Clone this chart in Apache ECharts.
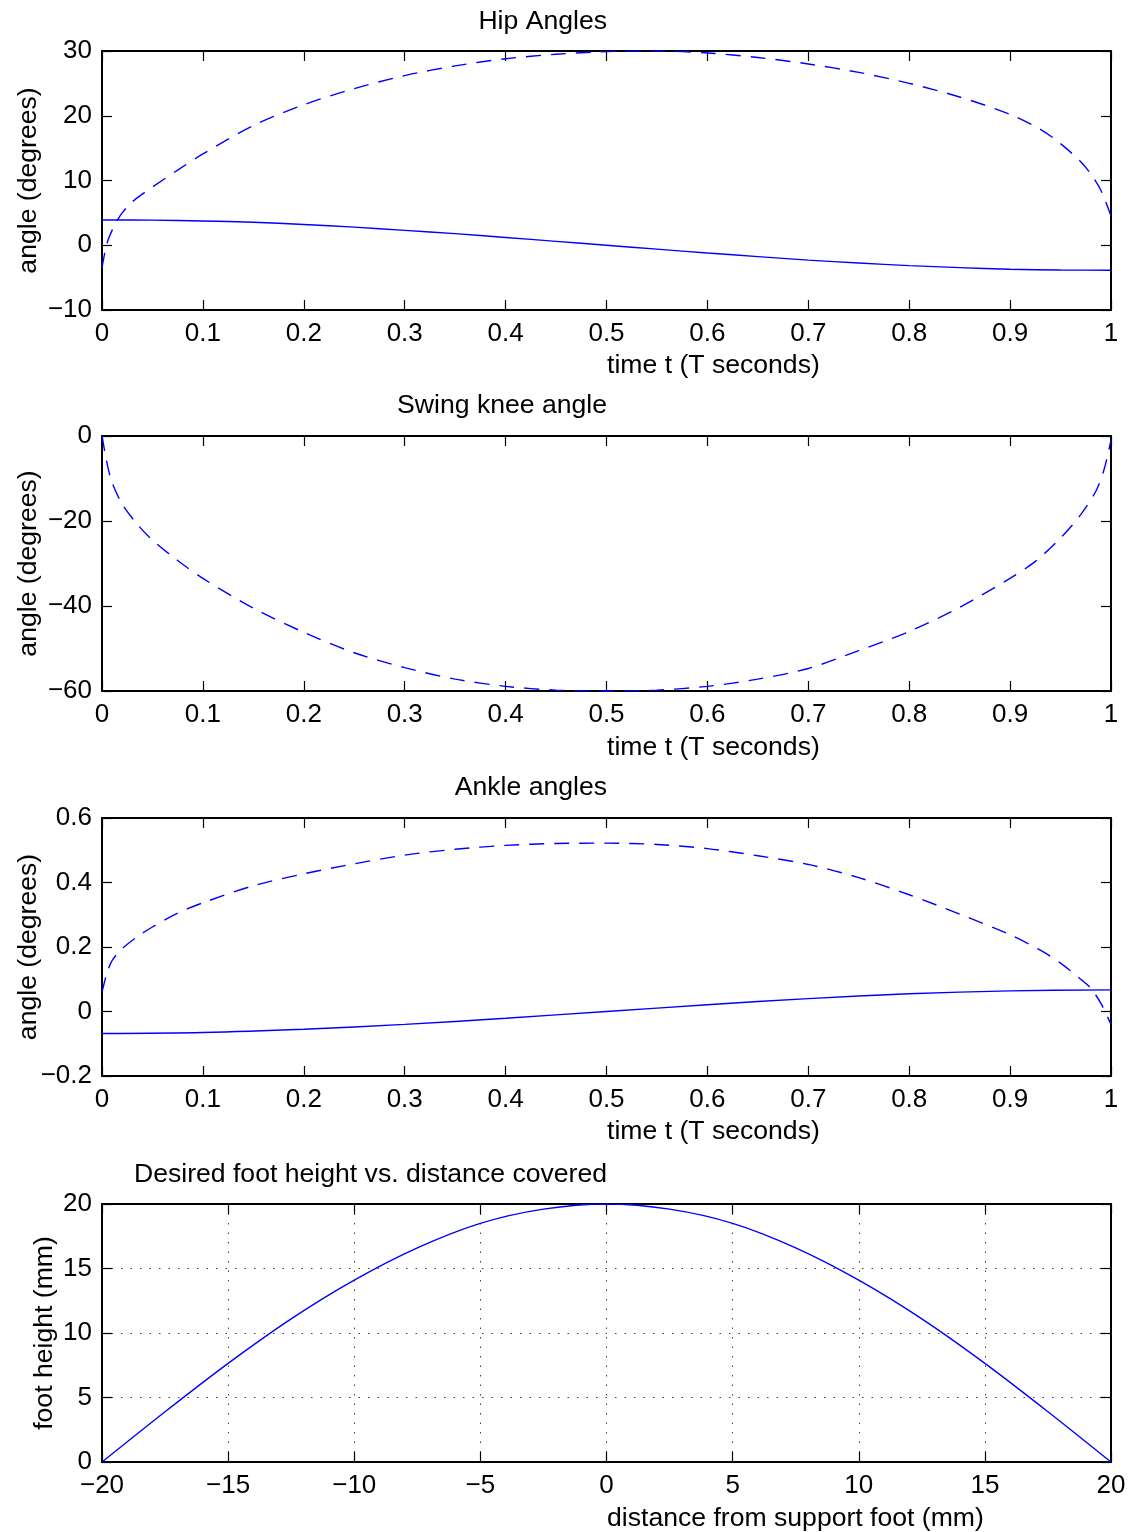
<!DOCTYPE html>
<html>
<head>
<meta charset="utf-8">
<script src="https://cdn.jsdelivr.net/npm/echarts@6/dist/echarts.min.js"></script>
<style>
html,body{margin:0;padding:0;background:#fff;}
#chart{width:1131px;height:1532px;}
</style>
</head>
<body>
<div id="chart"></div>
<script>
// ---- Data ----
// Hip angles (stance = solid, swing = dashed)
const hipStanceT = [0,0.05,0.1,0.15,0.2,0.25,0.3,0.35,0.4,0.45,0.5,0.55,0.6,0.65,0.7,0.75,0.8,0.85,0.9,0.95,1];
const hipStance  = [3.9,3.88,3.75,3.55,3.2,2.8,2.3,1.8,1.2,0.6,0,-0.6,-1.2,-1.75,-2.3,-2.75,-3.15,-3.45,-3.7,-3.82,-3.85];
const hipSwingT  = [0,0.003,0.006,0.01,0.015,0.02,0.03,0.04,0.05,0.075,0.1,0.15,0.2,0.25,0.3,0.35,0.4,0.45,0.5,0.55,0.6,0.65,0.7,0.75,0.8,0.85,0.9,0.93,0.95,0.97,0.98,0.99,1];
const hipSwing   = [-3.5,-1,0.8,2.3,3.8,5,6.7,7.9,9,11.6,14.1,18.5,21.7,24.2,26.2,27.7,28.8,29.5,29.9,30,29.7,29.0,28.0,26.7,25.0,22.9,20.2,17.9,15.7,12.9,11,8.5,4.5];
// Swing knee angle (dashed)
const kneeT = [0,0.003,0.006,0.01,0.02,0.035,0.05,0.075,0.1,0.15,0.2,0.25,0.3,0.35,0.4,0.45,0.5,0.55,0.6,0.65,0.7,0.75,0.8,0.85,0.9,0.925,0.95,0.97,0.985,0.993,1];
const knee  = [0,-4,-7.5,-11,-16,-20.8,-24.5,-29.3,-33.5,-40.5,-46.2,-51,-54.5,-57.2,-58.9,-59.8,-60,-59.8,-58.9,-57.2,-54.7,-50.5,-46,-40.3,-33.5,-29.5,-24,-18.5,-13,-8,-1];
// Ankle angles (stance = solid, swing = dashed)
const ankleStanceT = [0,0.1,0.2,0.3,0.4,0.5,0.6,0.7,0.8,0.9,1];
const ankleStance  = [-0.068,-0.065,-0.055,-0.04,-0.021,0,0.021,0.04,0.055,0.064,0.067];
const ankleSwingT  = [0,0.005,0.01,0.02,0.035,0.05,0.075,0.1,0.15,0.2,0.25,0.3,0.35,0.4,0.45,0.5,0.55,0.6,0.65,0.7,0.75,0.8,0.85,0.9,0.93,0.95,0.97,0.98,0.99,1];
const ankleSwing   = [0.06,0.12,0.158,0.195,0.232,0.262,0.305,0.337,0.39,0.427,0.458,0.485,0.503,0.515,0.521,0.522,0.518,0.505,0.483,0.456,0.415,0.362,0.302,0.238,0.19,0.15,0.1,0.072,0.025,-0.04];
// Desired foot height vs distance
const footX = [-20,-17.5,-15,-12.5,-10,-7.5,-5,-2.5,0,2.5,5,7.5,10,12.5,15,17.5,20];
const footH = [0,3.9,7.65,11.1,14.1,16.6,18.5,19.6,20,19.6,18.5,16.6,14.1,11.1,7.65,3.9,0];

const titles  = ['Hip Angles','Swing knee angle','Ankle angles','Desired foot height vs. distance covered'];
const xLabels = ['time t (T seconds)','time t (T seconds)','time t (T seconds)','distance from support foot (mm)'];
const yLabels = ['angle (degrees)','angle (degrees)','angle (degrees)','foot height (mm)'];

// ---- Layout ----
const FONT = '"Liberation Sans", Arial, Helvetica, sans-serif';
const grids = [
  {top:51,  height:259},
  {top:436, height:255},
  {top:818, height:258},
  {top:1204,height:258}
];
const xRanges = [[0,1,0.1],[0,1,0.1],[0,1,0.1],[-20,20,5]];
const yRanges = [[-10,30,10],[-60,0,20],[-0.2,0.6,0.2],[0,20,5]];
const titleY = [22,406,788,1175];
const xLabelY = [366,748,1132,1519];
const yNameGap = [60,60,60,44];

function fmt(v){
  let r = Math.round(v*1000)/1000;
  let s = String(Math.abs(r));
  return (r < 0 ? '\u2212' : '') + s;
}

const gridOpt = grids.map(g => ({left:102, right:20, top:g.top, height:g.height, containLabel:false, outerBoundsMode:'none'}));
const xAxes = [], yAxes = [];
grids.forEach((g,i) => {
  const grid = i === 3;
  const common = {
    type:'value', gridIndex:i,
    axisLine:{show:true, onZero:false, lineStyle:{color:'#000', width:2}},
    axisTick:{show:true, inside:true, length:10, lineStyle:{color:'#000', width:1.2}},
  };
  const split = {show:grid, lineStyle:{color:'#444', width:1, type:[1.5,8]}};
  xAxes.push(Object.assign({}, common, {
    position:'bottom', min:xRanges[i][0], max:xRanges[i][1], interval:xRanges[i][2],
    axisLabel:{show:true, formatter:fmt, color:'#000', fontSize:26, fontFamily:FONT, margin:11},
    splitLine:split
  }));
  xAxes.push(Object.assign({}, common, {
    position:'top', min:xRanges[i][0], max:xRanges[i][1], interval:xRanges[i][2],
    axisLabel:{show:false}, splitLine:{show:false}
  }));
  yAxes.push(Object.assign({}, common, {
    position:'left', min:yRanges[i][0], max:yRanges[i][1], interval:yRanges[i][2],
    axisLabel:{show:true, formatter:fmt, color:'#000', fontSize:26, fontFamily:FONT, margin:10},
    splitLine:split,
    name:yLabels[i], nameLocation:'middle', nameGap:yNameGap[i], nameMoveOverlap:false,
    nameTextStyle:{color:'#000', fontSize:26.6, fontFamily:FONT}
  }));
  yAxes.push(Object.assign({}, common, {
    position:'right', min:yRanges[i][0], max:yRanges[i][1], interval:yRanges[i][2],
    axisLabel:{show:false}, splitLine:{show:false}
  }));
});

function zip(a,b){ return a.map((x,k)=>[x,b[k]]); }
function line(xs, ys, gi, dashed){
  return {
    type:'line', xAxisIndex:gi*2, yAxisIndex:gi*2, data:zip(xs,ys),
    showSymbol:false, symbol:'none', smooth:0.3,
    lineStyle:{color:'#0000ff', width:1.4, type: dashed ? [15,10] : 'solid'},
    silent:true, animation:false, clip:true
  };
}
const series = [
  line(hipStanceT, hipStance, 0, false),
  line(hipSwingT, hipSwing, 0, true),
  line(kneeT, knee, 1, true),
  line(ankleStanceT, ankleStance, 2, false),
  line(ankleSwingT, ankleSwing, 2, true),
  line(footX, footH, 3, false)
];

const graphic = [];
titles.forEach((t,i) => {
  graphic.push({type:'text', x:607, y:titleY[i], style:{text:t, font:'26.6px '+FONT, fill:'#000',
    textAlign:'right', textVerticalAlign:'middle', align:'right', verticalAlign:'middle'}});
  graphic.push({type:'text', x:607, y:xLabelY[i], style:{text:xLabels[i], font:'26.6px '+FONT, fill:'#000',
    textAlign:'left', textVerticalAlign:'middle', align:'left', verticalAlign:'middle'}});
});

const chart = echarts.init(document.getElementById('chart'), null, {renderer:'canvas'});
chart.setOption({
  backgroundColor:'#fff',
  animation:false,
  grid:gridOpt,
  xAxis:xAxes,
  yAxis:yAxes,
  series:series,
  graphic:graphic
});
</script>
</body>
</html>
